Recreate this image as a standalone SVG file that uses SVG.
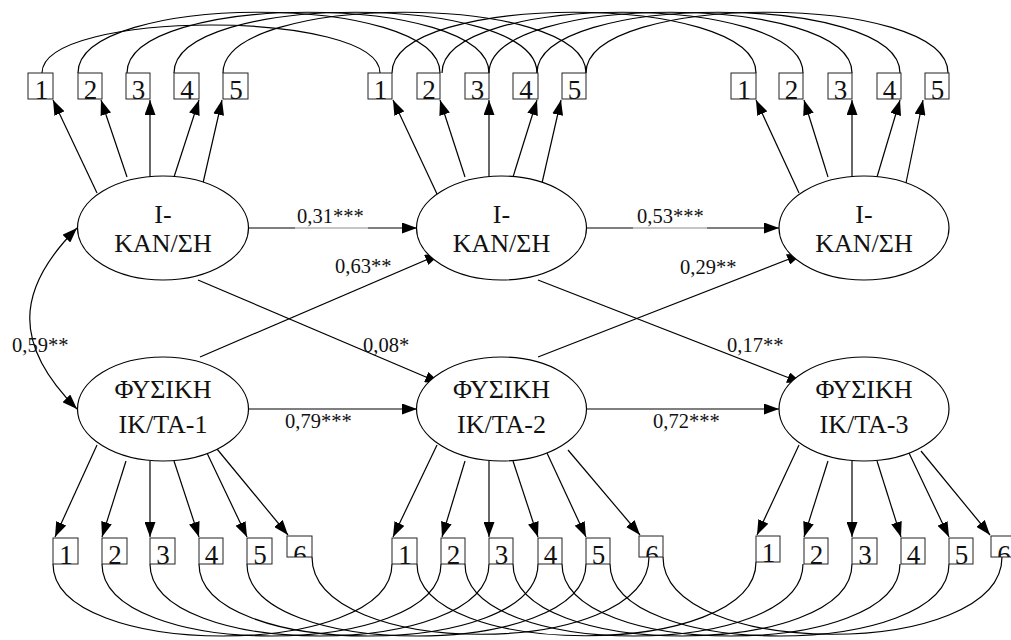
<svg xmlns="http://www.w3.org/2000/svg" width="1011" height="640" viewBox="0 0 1011 640">
<style>
.ln{stroke:#000;stroke-width:1.2;fill:none}
.gl{stroke:#8a8a8a;stroke-width:1;fill:none}
.box{fill:#fff;stroke:#222;stroke-width:1}
.ell{fill:#fff;stroke:#000;stroke-width:1.2}
text{font-family:'Liberation Serif','Times New Roman',Times,serif;fill:#111}
.bt{font-size:27px;text-anchor:middle}
.lt{font-size:26px;text-anchor:middle}
.cf{font-size:20.5px}
</style>
<defs>
<marker id="ah" markerWidth="15" markerHeight="11" refX="15" refY="5.5" orient="auto-start-reverse" markerUnits="userSpaceOnUse"><path d="M0,0 L15,5.5 L0,11 z" fill="#000"/></marker>
<clipPath id="c16"><rect x="287" y="536" width="25" height="21"/></clipPath>
<clipPath id="c26"><rect x="639" y="536" width="25" height="21"/></clipPath>
<clipPath id="c36"><rect x="991" y="536" width="25" height="21"/></clipPath>
</defs>
<rect width="1011" height="640" fill="#fff"/>

<g id="connectors">
<path class="ln" d="M42,73 C42,9 380,9 380,73"/>
<path class="ln" d="M78,73 C78,-8 440,-8 440,73"/>
<path class="ln" d="M127,73 C127,-8 489,-8 489,73"/>
<path class="ln" d="M174,73 C174,-8 537,-8 537,73"/>
<path class="ln" d="M223,73 C223,-8 586,-8 586,73"/>
<path class="ln" d="M392,73 C392,-8 756,-8 756,73"/>
<path class="ln" d="M442,73 C442,-8 803,-8 803,73"/>
<path class="ln" d="M489,73 C489,-8 852,-8 852,73"/>
<path class="ln" d="M537,73 C537,-8 900,-8 900,73"/>
<path class="ln" d="M586,73 C586,-8 948,-8 948,73"/>
<path class="ln" d="M53,564 C53,660 392,660 392,564"/>
<path class="ln" d="M102,564 C102,660 441,660 441,564"/>
<path class="ln" d="M150,564 C150,660 489,660 489,564"/>
<path class="ln" d="M199,564 C199,660 538,660 538,564"/>
<path class="ln" d="M247,564 C247,660 586,660 586,564"/>
<path class="ln" d="M312,557 C312,660 649,660 649,557"/>
<path class="ln" d="M417,564 C417,660 756,660 756,562"/>
<path class="ln" d="M465,564 C465,660 803,660 803,564"/>
<path class="ln" d="M513,564 C513,660 852,660 852,564"/>
<path class="ln" d="M562,564 C562,660 900,660 900,564"/>
<path class="ln" d="M610,564 C610,660 949,660 949,564"/>
<path class="ln" d="M663,557 C663,660 1002,660 1002,557"/>
<line class="ln" x1="97" y1="193" x2="53" y2="100" marker-end="url(#ah)"/>
<line class="ln" x1="127" y1="177" x2="101" y2="100" marker-end="url(#ah)"/>
<line class="ln" x1="150" y1="177" x2="150" y2="100" marker-end="url(#ah)"/>
<line class="ln" x1="174" y1="177" x2="199" y2="100" marker-end="url(#ah)"/>
<line class="ln" x1="203" y1="183" x2="222" y2="100" marker-end="url(#ah)"/>
<line class="ln" x1="437" y1="194" x2="393" y2="100" marker-end="url(#ah)"/>
<line class="ln" x1="465" y1="177" x2="440" y2="100" marker-end="url(#ah)"/>
<line class="ln" x1="489" y1="177" x2="489" y2="100" marker-end="url(#ah)"/>
<line class="ln" x1="513" y1="177" x2="537" y2="100" marker-end="url(#ah)"/>
<line class="ln" x1="542" y1="183" x2="561" y2="100" marker-end="url(#ah)"/>
<line class="ln" x1="799" y1="193" x2="756" y2="100" marker-end="url(#ah)"/>
<line class="ln" x1="828" y1="177" x2="804" y2="100" marker-end="url(#ah)"/>
<line class="ln" x1="852" y1="177" x2="852" y2="100" marker-end="url(#ah)"/>
<line class="ln" x1="877" y1="177" x2="900" y2="100" marker-end="url(#ah)"/>
<line class="ln" x1="906" y1="183" x2="923" y2="100" marker-end="url(#ah)"/>
<line class="ln" x1="97" y1="445" x2="55" y2="537" marker-end="url(#ah)"/>
<line class="ln" x1="126" y1="461" x2="102" y2="537" marker-end="url(#ah)"/>
<line class="ln" x1="150" y1="461" x2="150" y2="537" marker-end="url(#ah)"/>
<line class="ln" x1="174" y1="461" x2="199" y2="537" marker-end="url(#ah)"/>
<line class="ln" x1="207" y1="453" x2="247" y2="537" marker-end="url(#ah)"/>
<line class="ln" x1="217" y1="449" x2="288" y2="535" marker-end="url(#ah)"/>
<line class="ln" x1="437" y1="445" x2="393" y2="537" marker-end="url(#ah)"/>
<line class="ln" x1="465" y1="461" x2="442" y2="537" marker-end="url(#ah)"/>
<line class="ln" x1="489" y1="461" x2="489" y2="537" marker-end="url(#ah)"/>
<line class="ln" x1="513" y1="461" x2="538" y2="537" marker-end="url(#ah)"/>
<line class="ln" x1="547" y1="453" x2="586" y2="537" marker-end="url(#ah)"/>
<line class="ln" x1="568" y1="450" x2="640" y2="535" marker-end="url(#ah)"/>
<line class="ln" x1="799" y1="445" x2="757" y2="535" marker-end="url(#ah)"/>
<line class="ln" x1="828" y1="461" x2="804" y2="537" marker-end="url(#ah)"/>
<line class="ln" x1="852" y1="461" x2="852" y2="537" marker-end="url(#ah)"/>
<line class="ln" x1="877" y1="461" x2="901" y2="537" marker-end="url(#ah)"/>
<line class="ln" x1="909" y1="453" x2="949" y2="537" marker-end="url(#ah)"/>
<line class="ln" x1="921" y1="451" x2="990" y2="535" marker-end="url(#ah)"/>
<line class="ln" x1="248" y1="228" x2="295" y2="228"/>
<line class="gl" x1="295" y1="228" x2="368" y2="228"/>
<line class="ln" x1="368" y1="228" x2="417" y2="228" marker-end="url(#ah)"/>
<line class="ln" x1="586" y1="228" x2="633" y2="228"/>
<line class="gl" x1="633" y1="228" x2="707" y2="228"/>
<line class="ln" x1="707" y1="228" x2="779" y2="228" marker-end="url(#ah)"/>
<line class="ln" x1="248" y1="409" x2="417" y2="409" marker-end="url(#ah)"/>
<line class="ln" x1="586" y1="409" x2="779" y2="409" marker-end="url(#ah)"/>
<line class="ln" x1="198" y1="280" x2="440" y2="383" marker-end="url(#ah)"/>
<line class="ln" x1="200" y1="357" x2="440" y2="254" marker-end="url(#ah)"/>
<line class="ln" x1="538" y1="280" x2="802" y2="383" marker-end="url(#ah)"/>
<line class="ln" x1="538" y1="357" x2="802" y2="254" marker-end="url(#ah)"/>
<path class="ln" d="M77,228 C14,291 14,346 77,409" marker-start="url(#ah)" marker-end="url(#ah)"/>
<text class="cf" x="297" y="223">0,31***</text>
<text class="cf" x="637" y="223">0,53***</text>
<text class="cf" x="335" y="273">0,63**</text>
<text class="cf" x="680" y="274">0,29**</text>
<text class="cf" x="12" y="352">0,59**</text>
<text class="cf" x="363" y="352">0,08*</text>
<text class="cf" x="727" y="352">0,17**</text>
<text class="cf" x="285" y="428">0,79***</text>
<text class="cf" x="653" y="428">0,72***</text>
</g>

<g id="sat1"><ellipse class="ell" cx="163" cy="228" rx="85.5" ry="52"/><text class="lt" x="163" y="223">I-</text><text class="lt" x="163" y="252">ΚΑΝ/ΣΗ</text></g>
<g id="sat2"><ellipse class="ell" cx="501.5" cy="228" rx="85" ry="52"/><text class="lt" x="501.5" y="223">I-</text><text class="lt" x="501.5" y="252">ΚΑΝ/ΣΗ</text></g>
<g id="sat3"><ellipse class="ell" cx="864" cy="228" rx="85" ry="52"/><text class="lt" x="864" y="223">I-</text><text class="lt" x="864" y="252">ΚΑΝ/ΣΗ</text></g>
<g id="phy1"><ellipse class="ell" cx="163" cy="409" rx="85.5" ry="52"/><text class="lt" x="163" y="398">ΦΥΣΙΚΗ</text><text class="lt" x="163" y="433">ΙΚ/ΤΑ-1</text></g>
<g id="phy2"><ellipse class="ell" cx="501.5" cy="409" rx="85" ry="52"/><text class="lt" x="501.5" y="398">ΦΥΣΙΚΗ</text><text class="lt" x="501.5" y="433">ΙΚ/ΤΑ-2</text></g>
<g id="phy3"><ellipse class="ell" cx="864" cy="409" rx="85" ry="52"/><text class="lt" x="864" y="398">ΦΥΣΙΚΗ</text><text class="lt" x="864" y="433">ΙΚ/ΤΑ-3</text></g>

<g id="s1_1"><rect class="box" x="28" y="73" width="25" height="26"/><text class="bt" x="41.5" y="99">1</text></g>
<g id="s1_2"><rect class="box" x="78" y="73" width="24" height="26"/><text class="bt" x="90.5" y="99">2</text></g>
<g id="s1_3"><rect class="box" x="126" y="73" width="24" height="26"/><text class="bt" x="138.5" y="99">3</text></g>
<g id="s1_4"><rect class="box" x="174" y="73" width="25" height="26"/><text class="bt" x="187" y="99">4</text></g>
<g id="s1_5"><rect class="box" x="223" y="73" width="25" height="26"/><text class="bt" x="236" y="99">5</text></g>
<g id="s2_1"><rect class="box" x="368" y="73" width="24" height="26"/><text class="bt" x="380.5" y="99">1</text></g>
<g id="s2_2"><rect class="box" x="417" y="73" width="23" height="26"/><text class="bt" x="429" y="99">2</text></g>
<g id="s2_3"><rect class="box" x="465" y="73" width="24" height="26"/><text class="bt" x="477.5" y="99">3</text></g>
<g id="s2_4"><rect class="box" x="513" y="73" width="25" height="26"/><text class="bt" x="526" y="99">4</text></g>
<g id="s2_5"><rect class="box" x="562" y="73" width="24" height="26"/><text class="bt" x="574.5" y="99">5</text></g>
<g id="s3_1"><rect class="box" x="731" y="73" width="25" height="26"/><text class="bt" x="744" y="99">1</text></g>
<g id="s3_2"><rect class="box" x="779" y="73" width="24" height="26"/><text class="bt" x="791.5" y="99">2</text></g>
<g id="s3_3"><rect class="box" x="828" y="73" width="24" height="26"/><text class="bt" x="840.5" y="99">3</text></g>
<g id="s3_4"><rect class="box" x="877" y="73" width="24" height="26"/><text class="bt" x="889.5" y="99">4</text></g>
<g id="s3_5"><rect class="box" x="925" y="73" width="24" height="26"/><text class="bt" x="937.5" y="99">5</text></g>

<g id="p1_1"><rect class="box" x="53" y="538" width="25" height="26"/><text class="bt" x="66" y="564">1</text></g>
<g id="p1_2"><rect class="box" x="102" y="538" width="25" height="26"/><text class="bt" x="115" y="564">2</text></g>
<g id="p1_3"><rect class="box" x="150" y="538" width="25" height="26"/><text class="bt" x="163" y="564">3</text></g>
<g id="p1_4"><rect class="box" x="199" y="538" width="24" height="26"/><text class="bt" x="211.5" y="564">4</text></g>
<g id="p1_5"><rect class="box" x="247" y="538" width="25" height="26"/><text class="bt" x="260" y="564">5</text></g>
<g id="p1_6"><rect class="box" x="287" y="536" width="25" height="21"/><text class="bt" x="300" y="564" clip-path="url(#c16)">6</text></g>
<g id="p2_1"><rect class="box" x="392" y="538" width="25" height="26"/><text class="bt" x="405" y="564">1</text></g>
<g id="p2_2"><rect class="box" x="441" y="538" width="24" height="26"/><text class="bt" x="453.5" y="564">2</text></g>
<g id="p2_3"><rect class="box" x="489" y="538" width="24" height="26"/><text class="bt" x="501.5" y="564">3</text></g>
<g id="p2_4"><rect class="box" x="538" y="538" width="24" height="26"/><text class="bt" x="550.5" y="564">4</text></g>
<g id="p2_5"><rect class="box" x="586" y="538" width="24" height="26"/><text class="bt" x="598.5" y="564">5</text></g>
<g id="p2_6"><rect class="box" x="639" y="536" width="24" height="21"/><text class="bt" x="652" y="564" clip-path="url(#c26)">6</text></g>
<g id="p3_1"><rect class="box" x="756" y="536" width="24" height="26"/><text class="bt" x="768.5" y="562">1</text></g>
<g id="p3_2"><rect class="box" x="804" y="538" width="24" height="26"/><text class="bt" x="816.5" y="564">2</text></g>
<g id="p3_3"><rect class="box" x="852" y="538" width="25" height="26"/><text class="bt" x="865" y="564">3</text></g>
<g id="p3_4"><rect class="box" x="901" y="538" width="24" height="26"/><text class="bt" x="913.5" y="564">4</text></g>
<g id="p3_5"><rect class="box" x="949" y="538" width="24" height="26"/><text class="bt" x="961.5" y="564">5</text></g>
<g id="p3_6"><rect class="box" x="991" y="536" width="25" height="21"/><text class="bt" x="1004" y="564" clip-path="url(#c36)">6</text></g>
</svg>
